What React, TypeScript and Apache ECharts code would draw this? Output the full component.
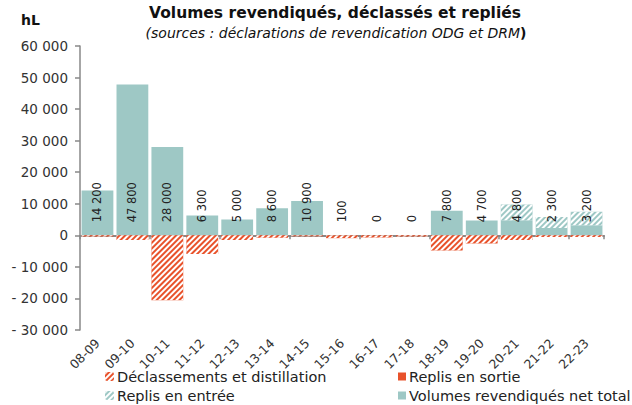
import React, { useEffect, useRef } from "react";
import * as echarts from "echarts";

const categories = ["08-09", "09-10", "10-11", "11-12", "12-13", "13-14", "14-15", "15-16", "16-17", "17-18", "18-19", "19-20", "20-21", "21-22", "22-23"];
const netTotal = [14200, 47800, 28000, 6300, 5000, 8600, 10900, 100, 0, 0, 7800, 4700, 4800, 2300, 3200];
const replisEntree = [0, 0, 0, 0, 0, 0, 0, 0, 0, 0, 0, 0, 5000, 3500, 4300];
const declassements = [-400, -1500, -20600, -5900, -1500, -800, -300, -900, -700, -400, -4800, -2600, -1500, -500, -500];
const replisSortie = [0, 0, 0, 0, 0, 0, 0, 0, 0, 0, 0, 0, 0, 0, 0];

const FONT = "DejaVu Sans";
const RED = "#E8522B";
const TEAL = "#9EC8C5";

function fmt(v: number): string {
  const s = Math.abs(Math.round(v)).toString().replace(/\B(?=(\d{3})+(?!\d))/g, " ");
  return v < 0 ? "- " + s : s;
}

const hatch = () => ({
  symbol: "rect",
  symbolSize: 1,
  color: "#ffffff",
  dashArrayX: [1, 0],
  dashArrayY: [1.6, 1.6],
  rotation: -Math.PI / 4,
});

const legendItem = (name: string, left: number, top: number, icon: string, size: number) => ({
  left,
  top,
  orient: "horizontal",
  itemGap: 0,
  itemWidth: size,
  itemHeight: size,
  icon,
  padding: 0,
  textStyle: { fontSize: 14.5, color: "#222", fontFamily: FONT, padding: [0, 0, 0, -2] },
  data: [name],
});

export default function App() {
  const ref = useRef<HTMLDivElement>(null);
  useEffect(() => {
    if (!ref.current) return;
    const chart = echarts.init(ref.current, null, { renderer: "svg" });
    chart.setOption({
      animation: false,
      textStyle: { fontFamily: FONT },
      graphic: [
        {
          type: "text",
          x: 335,
          y: 13,
          style: {
            text: "Volumes revendiqués, déclassés et repliés",
            font: `bold 15.5px "${FONT}"`,
            fill: "#111",
            textAlign: "center",
            textVerticalAlign: "middle",
          },
        },
        {
          type: "text",
          x: 336,
          y: 33,
          style: {
            text: "{i|(sources : déclarations de revendication ODG et DRM}{b|)}",
            textAlign: "center",
            textVerticalAlign: "middle",
            rich: {
              i: { fontFamily: FONT, fontStyle: "italic", fontSize: 14, fill: "#111", color: "#111" },
              b: { fontFamily: FONT, fontWeight: "bold", fontSize: 14, fill: "#111", color: "#111" },
            },
          },
        },
        {
          type: "text",
          x: 21,
          y: 20,
          style: {
            text: "hL",
            font: `bold 14px "${FONT}"`,
            fill: "#111",
            textVerticalAlign: "middle",
          },
        },
      ],
      legend: [
        legendItem("Déclassements et distillation", 105, 369, "roundRect", 9),
        legendItem("Replis en entrée", 105, 388, "roundRect", 9),
        legendItem("Replis en sortie", 398, 369, "rect", 8),
        legendItem("Volumes revendiqués net total", 398, 388, "rect", 8),
      ],
      grid: { left: 80, right: 28, top: 46, bottom: 75 },
      xAxis: [
        {
          type: "category",
          data: categories,
          position: "bottom",
          axisLine: { show: false, onZero: false },
          axisTick: { show: false },
          axisLabel: { rotate: 45, margin: 11, fontSize: 12.5, color: "#333", fontFamily: FONT, interval: 0 },
        },
        {
          type: "category",
          data: categories,
          position: "bottom",
          axisLine: { show: true, onZero: true, lineStyle: { color: "#888", width: 2 } },
          axisTick: { show: true, length: 4, lineStyle: { color: "#888", width: 1.5 } },
          axisLabel: { show: false },
        },
      ],
      yAxis: {
        type: "value",
        min: -30000,
        max: 60000,
        interval: 10000,
        axisLine: { show: true, lineStyle: { color: "#888", width: 1.5 } },
        axisTick: { show: true, length: 5, lineStyle: { color: "#888", width: 1.5 } },
        splitLine: { show: false },
        axisLabel: { fontSize: 13.5, color: "#333", fontFamily: FONT, margin: 12, formatter: (v: number) => fmt(v) },
      },
      series: [
        {
          name: "Volumes revendiqués net total",
          type: "bar",
          stack: "s",
          data: netTotal,
          barCategoryGap: "9%",
          itemStyle: { color: TEAL },
          label: {
            show: true,
            position: "insideBottom",
            distance: 13,
            rotate: 90,
            align: "left",
            verticalAlign: "middle",
            fontSize: 11.5,
            color: "#222",
            fontFamily: FONT,
            formatter: (p: any) => fmt(p.value),
          },
        },
        {
          name: "Replis en entrée",
          type: "bar",
          stack: "s",
          data: replisEntree,
          barCategoryGap: "9%",
          itemStyle: { color: TEAL, decal: hatch() },
        },
        {
          name: "Déclassements et distillation",
          type: "bar",
          stack: "s",
          data: declassements,
          barCategoryGap: "9%",
          itemStyle: { color: RED, decal: hatch() },
        },
        {
          name: "Replis en sortie",
          type: "bar",
          stack: "s",
          data: replisSortie,
          barCategoryGap: "9%",
          itemStyle: { color: RED },
        },
      ],
    });
    return () => chart.dispose();
  }, []);
  return <div ref={ref} style={{ width: 632, height: 405, position: "absolute", left: 0, top: 0 }} />;
}
